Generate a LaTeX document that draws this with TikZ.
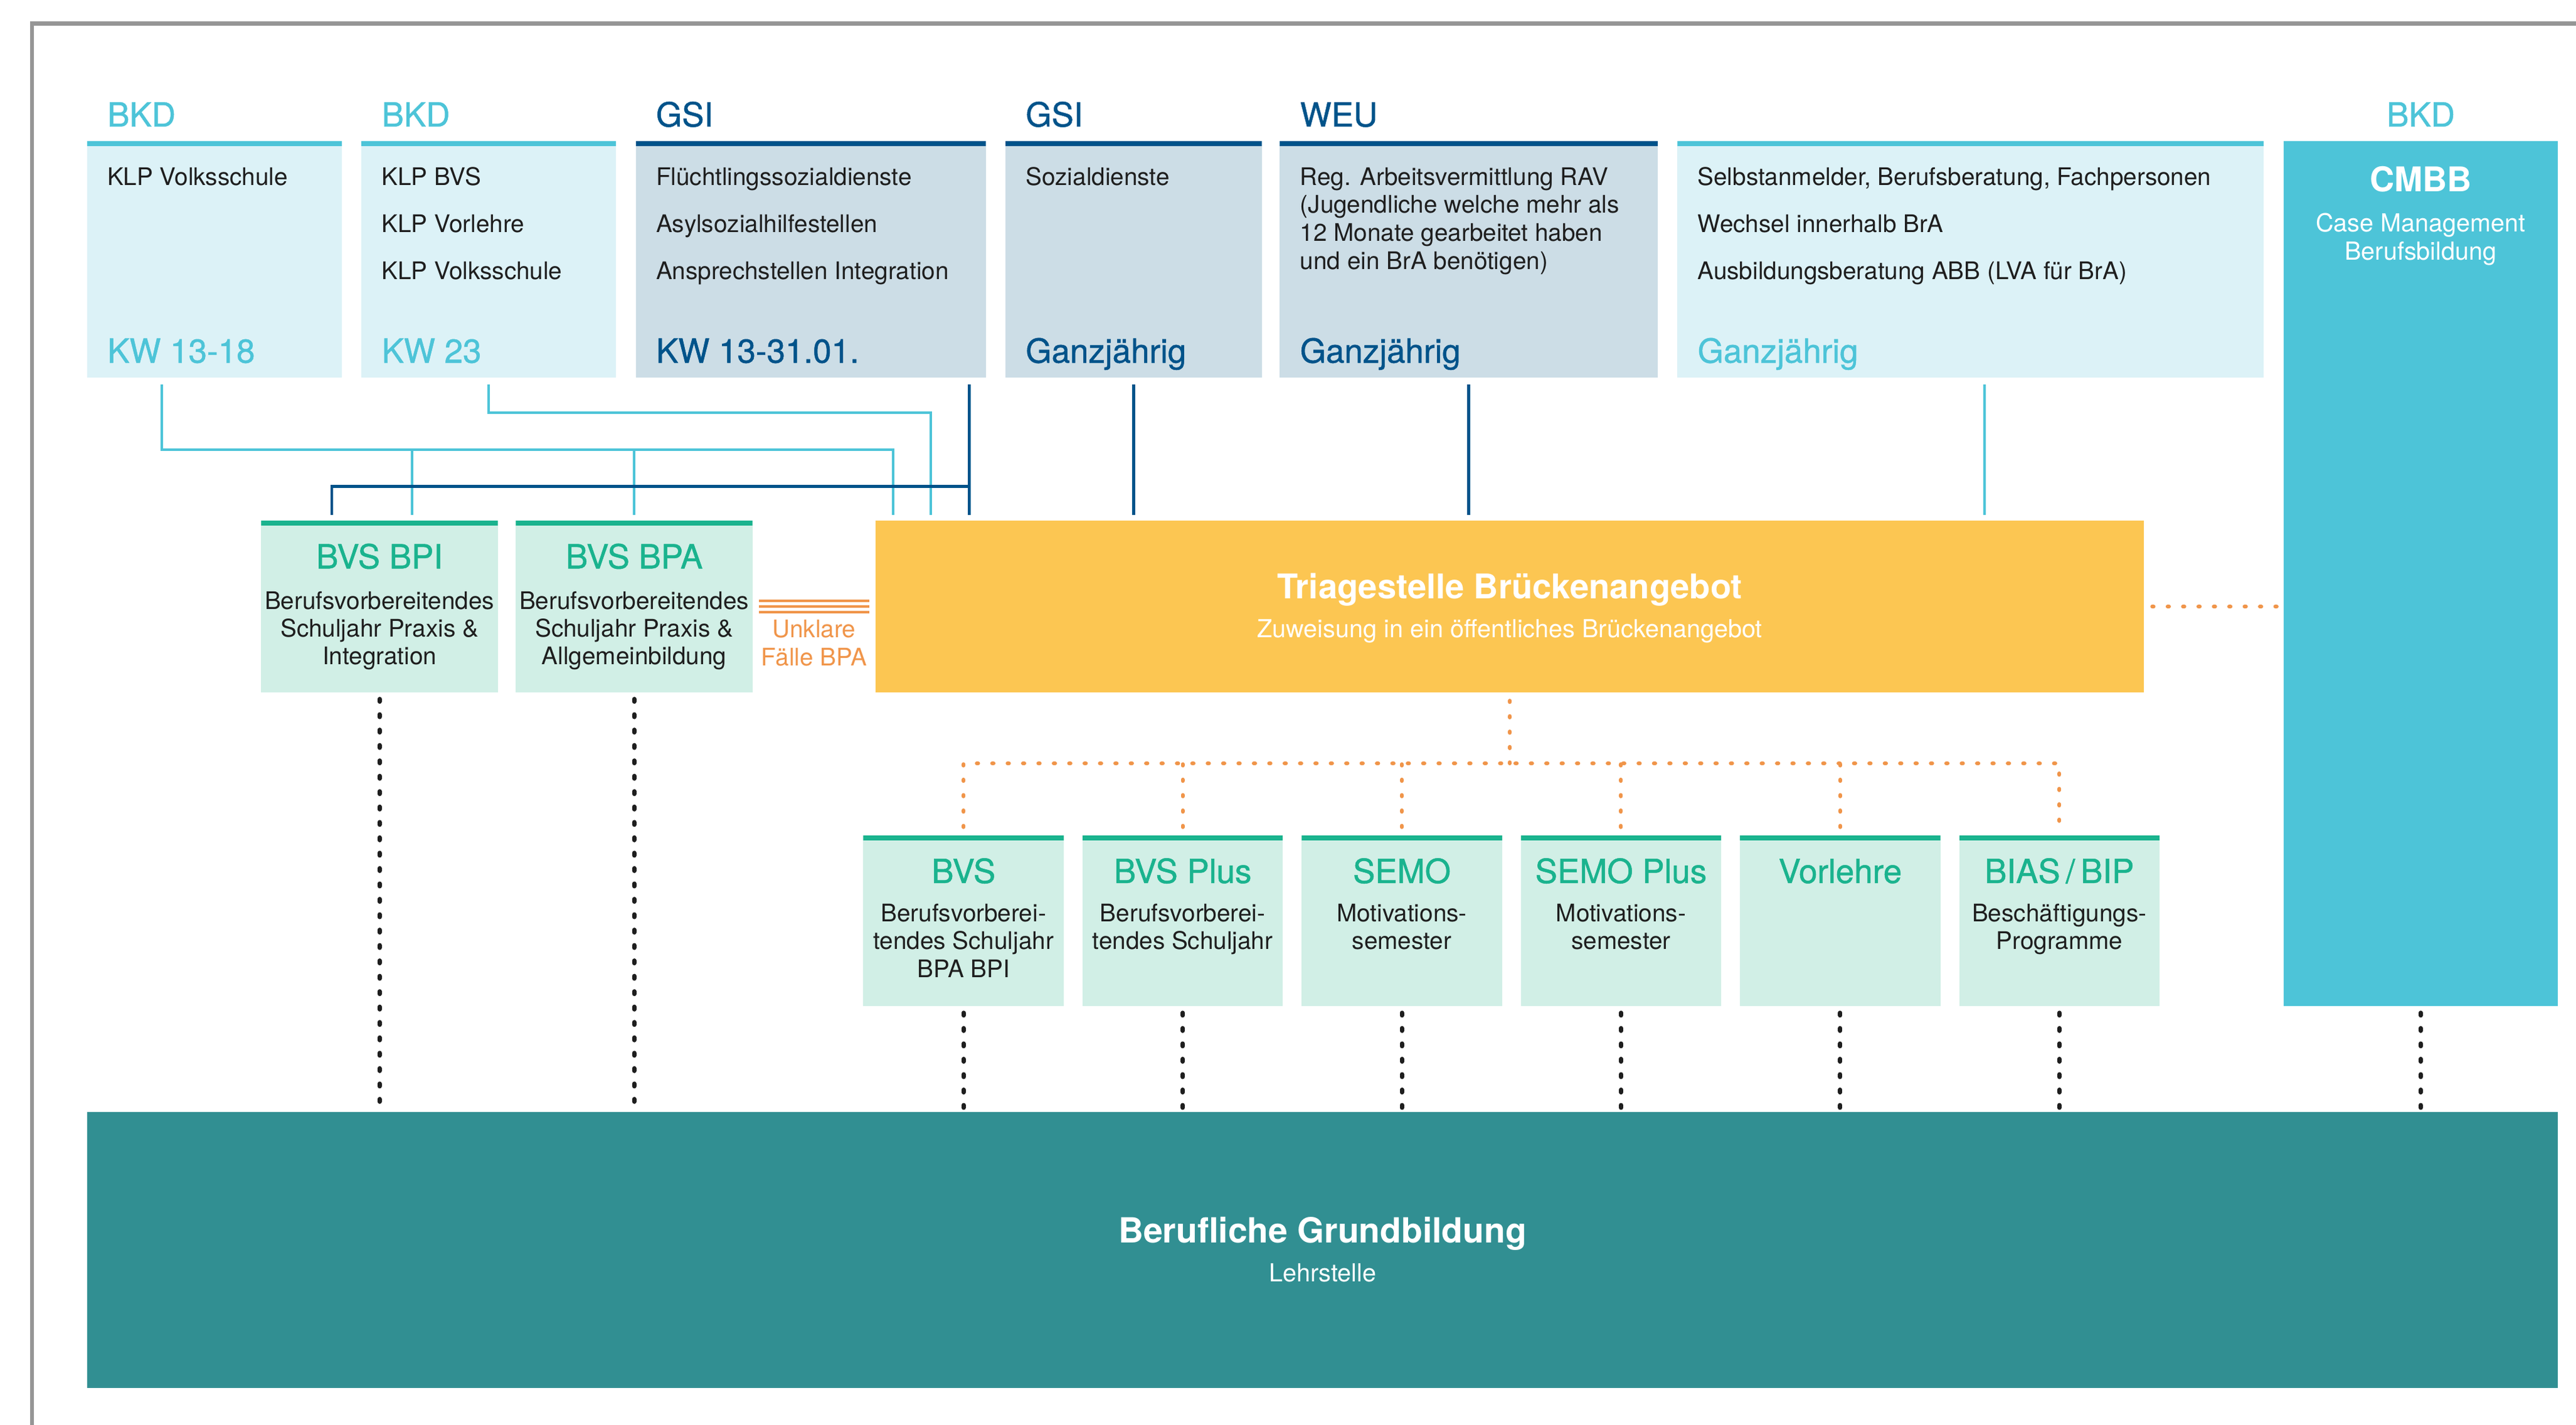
\documentclass[tikz,border=0pt]{standalone}
\usepackage{fontspec}
\setmainfont{TeX Gyre Heros}
\newfontfamily\medfont{TeX Gyre Heros}[FakeBold=0.9]
\definecolor{CyanClr}{RGB}{77,196,216}
\definecolor{CyanFill}{RGB}{220,242,247}
\definecolor{NavyClr}{RGB}{0,83,138}
\definecolor{NavyFill}{RGB}{204,221,230}
\definecolor{GreenClr}{RGB}{26,179,142}
\definecolor{GreenFill}{RGB}{209,239,230}
\definecolor{TriageClr}{RGB}{252,198,82}
\definecolor{OrangeClr}{RGB}{240,149,74}
\definecolor{GroundClr}{RGB}{49,143,146}
\definecolor{FrameClr}{RGB}{150,150,150}
\definecolor{TxtClr}{RGB}{30,30,30}

\begin{document}
\begin{tikzpicture}[y=-1cm,
  box/.style={inner sep=0pt, outer sep=0pt, anchor=north west},
  barbox/.style 2 args={box, fill=#2, path picture={\fill[#1] (path picture bounding box.north west) rectangle ([yshift=-.062cm]path picture bounding box.north east);}},
  headTxt/.style={font=\medfont\fontsize{11.5}{13}\selectfont, text=#1, inner sep=0pt, anchor=base west},
  bodyTxt/.style={font=\fontsize{8.4}{10}\selectfont, text=TxtClr, inner sep=0pt, anchor=base west},
  midTxt/.style={bodyTxt, anchor=base},
  greenTtl/.style={font=\medfont\fontsize{11.5}{13}\selectfont, text=GreenClr, inner sep=0pt, anchor=base},
  whiteTtl/.style={font=\bfseries\fontsize{11.8}{13}\selectfont, text=white, inner sep=0pt, anchor=base},
  whiteSub/.style={font=\fontsize{8.6}{10}\selectfont, text=white, inner sep=0pt, anchor=base},
  lnC/.style={draw=CyanClr, line width=.85pt},
  lnD/.style={draw=NavyClr, line width=1pt},
  dotO/.style={draw=OrangeClr, line width=1.3pt, line cap=round, dash pattern=on .5pt off 4.83pt},
  dotK/.style={draw=TxtClr, line width=1.5pt, line cap=round, dash pattern=on .9pt off 4.43pt},
  ordLn/.style={draw=OrangeClr, line width=.85pt}]

\useasboundingbox (0,0) rectangle (31.36,17.348);
\draw[draw=FrameClr, line width=1.4pt] (0.39,17.348) |- (31.36,0.288);

% zuweisende Stellen
\node[barbox={CyanClr}{CyanFill}, minimum width=3.10cm, minimum height=2.88cm] (bkdA) at (1.06,1.72) {};
\node[barbox={CyanClr}{CyanFill}, minimum width=3.10cm, minimum height=2.88cm] (bkdB) at (4.40,1.72) {};
\node[barbox={NavyClr}{NavyFill}, minimum width=4.26cm, minimum height=2.88cm] (gsiA) at (7.74,1.72) {};
\node[barbox={NavyClr}{NavyFill}, minimum width=3.12cm, minimum height=2.88cm] (gsiB) at (12.24,1.72) {};
\node[barbox={NavyClr}{NavyFill}, minimum width=4.60cm, minimum height=2.88cm] (weu) at (15.58,1.72) {};
\node[barbox={CyanClr}{CyanFill}, minimum width=7.14cm, minimum height=2.88cm] (misc) at (20.42,1.72) {};
\node[box, fill=CyanClr, minimum width=3.34cm, minimum height=10.53cm] (cmbb) at (27.80,1.72) {};

\node[headTxt=CyanClr] (hBkdA) at (1.30,1.54) {BKD};
\node[headTxt=CyanClr] (hBkdB) at (4.64,1.54) {BKD};
\node[headTxt=NavyClr] (hGsiA) at (7.98,1.54) {GSI};
\node[headTxt=NavyClr] (hGsiB) at (12.48,1.54) {GSI};
\node[headTxt=NavyClr] (hWeu) at (15.82,1.54) {WEU};
\node[headTxt=CyanClr, anchor=base] (hCmbb) at (29.47,1.54) {BKD};

\node[bodyTxt] (tBkdA) at (1.30,2.254) {KLP Volksschule};
\foreach \t [count=\i from 0] in {KLP BVS,KLP Vorlehre,KLP Volksschule}
  \node[bodyTxt] (tBkdB\i) at (4.64,{2.254+.574*\i}) {\t};
\foreach \t [count=\i from 0] in {Flüchtlingssozialdienste,Asylsozialhilfestellen,Ansprechstellen Integration}
  \node[bodyTxt] (tGsiA\i) at (7.98,{2.254+.574*\i}) {\t};
\node[bodyTxt] (tGsiB) at (12.48,2.254) {Sozialdienste};
\foreach \t [count=\i from 0] in {Reg. Arbeitsvermittlung RAV,{(Jugendliche welche mehr als},12 Monate gearbeitet haben,{und ein BrA benötigen)}}
  \node[bodyTxt] (tWeu\i) at (15.82,{2.254+.342*\i}) {\t};
\foreach \t [count=\i from 0] in {{Selbstanmelder, Berufsberatung, Fachpersonen},Wechsel innerhalb BrA,Ausbildungsberatung ABB (LVA für BrA)}
  \node[bodyTxt] (tMisc\i) at (20.66,{2.254+.574*\i}) {\t};

\node[headTxt=CyanClr] (kBkdA) at (1.30,4.416) {KW 13-18};
\node[headTxt=CyanClr] (kBkdB) at (4.64,4.416) {KW 23};
\node[headTxt=NavyClr] (kGsiA) at (7.98,4.416) {KW 13-31.01.};
\node[headTxt=NavyClr] (kGsiB) at (12.48,4.416) {Ganzjährig};
\node[headTxt=NavyClr] (kWeu) at (15.82,4.416) {Ganzjährig};
\node[headTxt=CyanClr] (kMisc) at (20.66,4.416) {Ganzjährig};

\node[whiteTtl] (tCmbb) at (29.47,2.334) {CMBB};
\node[whiteSub] (sCmbbA) at (29.47,2.818) {Case Management};
\node[whiteSub] (sCmbbB) at (29.47,3.166) {Berufsbildung};

% BVS BPI / BPA und Triage
\foreach \n/\t/\lst [count=\i from 0] in {bpi/BVS BPI/{Berufsvorbereitendes,Schuljahr Praxis \&,Integration},bpa/BVS BPA/{Berufsvorbereitendes,Schuljahr Praxis \&,Allgemeinbildung}}{
  \node[barbox={GreenClr}{GreenFill}, minimum width=2.88cm, minimum height=2.09cm] (\n) at ({3.18+3.1*\i},6.34) {};
  \node[greenTtl] (t\n) at ({4.62+3.1*\i},6.92) {\t};
  \foreach \z [count=\j from 0] in \lst
    \node[midTxt] (l\n\j) at ({4.62+3.1*\i},{7.416+.336*\j}) {\z};
}

\node[box, fill=TriageClr, minimum width=15.44cm, minimum height=2.09cm] (triage) at (10.66,6.34) {};
\node[whiteTtl] (tTriage) at (18.38,7.29) {Triagestelle Brückenangebot};
\node[whiteSub] (sTriage) at (18.38,7.76) {Zuweisung in ein öffentliches Brückenangebot};

\node[midTxt, text=OrangeClr] (unkA) at (9.91,7.765) {Unklare};
\node[midTxt, text=OrangeClr] (unkB) at (9.91,8.105) {Fälle BPA};
\foreach \s in {.07,0,-.07}
  \draw[ordLn] ([yshift=\s cm, xshift=.08cm]bpa.east) -- ([yshift=\s cm, xshift=-.08cm]triage.west);

% Brueckenangebote
\foreach \n/\t/\lst [count=\i from 0] in {bvs/BVS/{Berufsvorberei-,tendes Schuljahr,BPA BPI},bvsplus/BVS Plus/{Berufsvorberei-,tendes Schuljahr},semo/SEMO/{Motivations-,semester},semoplus/SEMO Plus/{Motivations-,semester},vorlehre/Vorlehre/{},bias/{BIAS\,/\,BIP}/{Beschäftigungs-,Programme}}{
  \node[barbox={GreenClr}{GreenFill}, minimum width=2.44cm, minimum height=2.08cm] (\n) at ({10.51+2.668*\i},10.17) {};
  \node[greenTtl] (t\n) at ({11.73+2.668*\i},10.75) {\t};
  \foreach \z [count=\j from 0] in \lst
    \node[midTxt] (l\n\j) at ({11.73+2.668*\i},{11.22+.34*\j}) {\z};
}

\node[box, fill=GroundClr, minimum width=30.08cm, minimum height=3.36cm] (ground) at (1.06,13.54) {};
\node[whiteTtl, font=\bfseries\fontsize{12}{13}\selectfont] (tGround) at (16.10,15.13) {Berufliche Grundbildung};
\node[whiteSub] (sGround) at (16.10,15.60) {Lehrstelle};

% Verbindungen
\draw[lnC, shorten <=.08cm, shorten >=.07cm] ([xshift=.912cm]bkdA.south west) -- ++(0,.872) -| ([xshift=.214cm]triage.north west);
\draw[lnC, shorten <=.07cm] ([xshift=1.84cm]bpi.north west) -- ++(0,-.868);
\draw[lnC, shorten <=.07cm] (bpa.north) -- ++(0,-.868);
\draw[lnC, shorten <=.08cm, shorten >=.07cm] (bkdB.south) -- ++(0,.426) -| ([xshift=.674cm]triage.north west);
\draw[lnD, shorten <=.08cm, shorten >=.07cm] ([xshift=-.2cm]gsiA.south east) -- ([xshift=1.14cm]triage.north west);
\draw[lnD, shorten >=.07cm] ([xshift=1.14cm,yshift=.42cm]triage.north west) -| ([xshift=.86cm]bpi.north west);
\draw[lnD, shorten <=.08cm, shorten >=.07cm] (gsiB.south) -- (gsiB.south |- triage.north);
\draw[lnD, shorten <=.08cm, shorten >=.07cm] (weu.south) -- (weu.south |- triage.north);
\draw[lnC, shorten <=.08cm, shorten >=.07cm] ([xshift=.17cm]misc.south) -- ++(0,1.74);

\draw[dotO, shorten <=.1cm, shorten >=.05cm] (triage.east) -- (triage.east -| cmbb.west);
\draw[dotO, shorten <=.1cm] (triage.south) -- ++(0,.864);
\draw[dotO, shorten <=.1cm, shorten >=.1cm] (bvs.north) -- ++(0,-.876) -| (bias.north);
\foreach \n in {bvsplus,semo,semoplus,vorlehre}
  \draw[dotO, shorten <=.1cm] (\n.north) -- ++(0,-.876);

\foreach \n in {bpi,bpa,bvs,bvsplus,semo,semoplus,vorlehre,bias,cmbb}
  \draw[dotK, shorten <=.08cm, shorten >=.04cm] (\n.south) -- (\n.south |- ground.north);

\end{tikzpicture}
\end{document}
